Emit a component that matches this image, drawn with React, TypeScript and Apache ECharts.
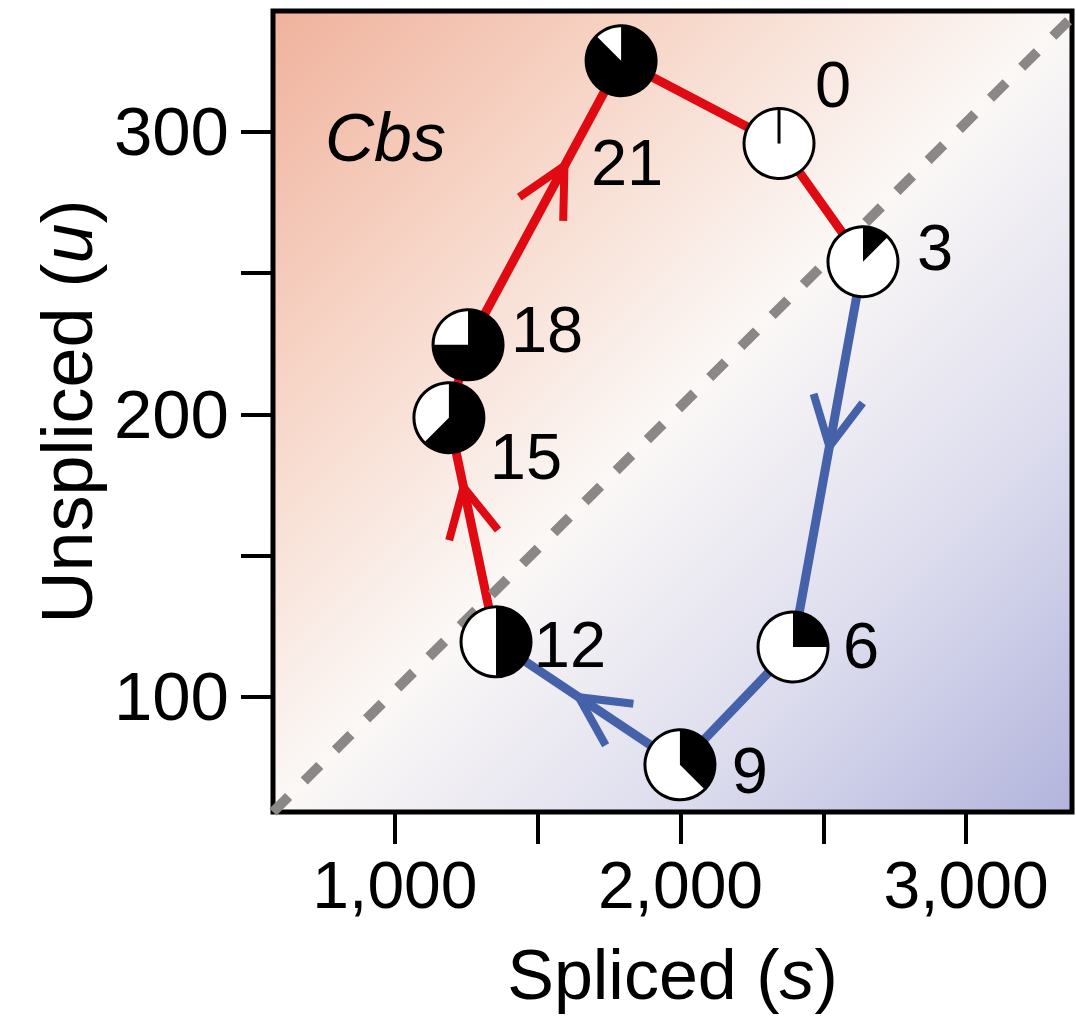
import React, { useEffect, useRef } from "react";
import * as echarts from "echarts";

// ---- data ----
const hours = [0, 3, 6, 9, 12, 15, 18, 21];
const spliced = [2345, 2639, 2394, 1998, 1354, 1189, 1256, 1792];
const unspliced = [295.8, 254, 117.7, 76, 119.5, 198.8, 224.6, 325.1];

const redPath = [12, 15, 18, 21, 0, 3];
const bluePath = [3, 6, 9, 12];

// [from hour, to hour, position of arrow tip along segment]
const arrowSegments = [
  [3, 6, 0.48],
  [9, 12, 0.55],
  [12, 15, 0.69],
  [18, 21, 0.63],
];

const xTicks = [1000, 1500, 2000, 2500, 3000];
const xLabels = [1000, 2000, 3000];
const yTicks = [100, 150, 200, 250, 300];
const yLabels = [100, 200, 300];
const xRange = [573, 3371];
const yRange = [59.3, 342.7];
const diagonal = [
  [573, 59.3],
  [3371, 340.5],
];
const geneName = "Cbs";

// ---- layout / style (not data) ----
const labelOffsets: Record<number, [number, number]> = {
  0: [54, -59],
  3: [72, -14],
  6: [68, -1],
  9: [70, 6],
  12: [74, 3],
  15: [77, 39],
  18: [79, -15],
  21: [6, 102],
};
const FONT = "'Liberation Sans', Arial, Helvetica, sans-serif";
const RED = "#e00a12";
const BLUE = "#4461a9";

const pointOf = (h: number) => {
  const i = hours.indexOf(h);
  return [spliced[i], unspliced[i]];
};

export default function App() {
  const ref = useRef<HTMLDivElement>(null);

  useEffect(() => {
    if (!ref.current) return;
    const chart = echarts.init(ref.current, null, { renderer: "svg" });

    const pieData = hours.map((h, i) => [spliced[i], unspliced[i], h]);
    const isBlueSeg = (a: number, b: number) => {
      const i = bluePath.indexOf(a);
      return i >= 0 && bluePath[i + 1] === b;
    };
    const arrowData = (blue: boolean) =>
      arrowSegments
        .filter((s) => isBlueSeg(s[0], s[1]) === blue)
        .map((s) => [...pointOf(s[0]), ...pointOf(s[1]), s[2]]);

    const arrowSeries = (blue: boolean) => ({
      type: "custom",
      z: 4,
      data: arrowData(blue),
      encode: { x: [0, 2], y: [1, 3] },
      renderItem: (params: any, api: any) => {
        const p0 = api.coord([api.value(0), api.value(1)]);
        const p1 = api.coord([api.value(2), api.value(3)]);
        const f = api.value(4);
        const dx = p1[0] - p0[0];
        const dy = p1[1] - p0[1];
        const len = Math.hypot(dx, dy);
        const bx = -dx / len;
        const by = -dy / len;
        const tip = [p0[0] + f * dx, p0[1] + f * dy];
        const L = 55;
        const a = (27 * Math.PI) / 180;
        const rot = (t: number) => [
          bx * Math.cos(t) - by * Math.sin(t),
          bx * Math.sin(t) + by * Math.cos(t),
        ];
        const r1 = rot(a);
        const r2 = rot(-a);
        return {
          type: "polyline",
          shape: {
            points: [
              [tip[0] + L * r1[0], tip[1] + L * r1[1]],
              tip,
              [tip[0] + L * r2[0], tip[1] + L * r2[1]],
            ],
          },
          style: { stroke: blue ? BLUE : RED, lineWidth: 8, fill: null, lineJoin: "miter" },
        };
      },
    });

    const option: any = {
      animation: false,
      grid: {
        left: 273,
        right: 4,
        top: 11,
        bottom: 212,
        show: true,
        borderColor: "#000",
        borderWidth: 5,
        backgroundColor: {
          type: "linear",
          x: 0,
          y: 0,
          x2: 1,
          y2: 1,
          colorStops: [
            { offset: 0, color: "#f0b29c" },
            { offset: 0.25, color: "#f7d6c8" },
            { offset: 0.5, color: "#fbf8f6" },
            { offset: 0.75, color: "#dcdcee" },
            { offset: 1, color: "#b2b4dc" },
          ],
        },
      },
      xAxis: {
        type: "value",
        min: xRange[0],
        max: xRange[1],
        splitLine: { show: false },
        axisLine: { show: false },
        axisTick: {
          show: true,
          inside: false,
          length: 32,
          customValues: xTicks,
          lineStyle: { color: "#000", width: 4 },
        },
        axisLabel: {
          customValues: xLabels,
          margin: 40,
          fontSize: 66,
          color: "#000",
          fontFamily: FONT,
          formatter: (v: number) => v.toLocaleString("en-US"),
        },
        name: "{a|Spliced (}{b|s}{a|)}",
        nameLocation: "middle",
        nameGap: 128,
        nameTextStyle: {
          fontSize: 70,
          fontFamily: FONT,
          color: "#000",
          rich: {
            a: { fontSize: 70, fontFamily: FONT, color: "#000" },
            b: { fontSize: 70, fontFamily: FONT, color: "#000", fontStyle: "italic" },
          },
        },
      },
      yAxis: {
        type: "value",
        min: yRange[0],
        max: yRange[1],
        splitLine: { show: false },
        axisLine: { show: false },
        axisTick: {
          show: true,
          inside: false,
          length: 32,
          customValues: yTicks,
          lineStyle: { color: "#000", width: 4 },
        },
        axisLabel: {
          customValues: yLabels,
          margin: 44,
          fontSize: 69,
          color: "#000",
          fontFamily: FONT,
        },
        name: "{a|Unspliced (}{b|u}{a|)}",
        nameLocation: "middle",
        nameGap: 170,
        nameTextStyle: {
          fontSize: 72,
          fontFamily: FONT,
          color: "#000",
          rich: {
            a: { fontSize: 72, fontFamily: FONT, color: "#000" },
            b: { fontSize: 72, fontFamily: FONT, color: "#000", fontStyle: "italic" },
          },
        },
      },
      graphic: [
        {
          type: "text",
          left: 325,
          top: 103,
          z: 10,
          style: {
            text: geneName,
            fontSize: 68,
            fontStyle: "italic",
            fontFamily: FONT,
            fill: "#000",
          },
        },
      ],
      series: [
        {
          type: "line",
          z: 2,
          data: redPath.map(pointOf),
          symbol: "none",
          lineStyle: { color: RED, width: 9 },
        },
        {
          type: "line",
          z: 2,
          data: bluePath.map(pointOf),
          symbol: "none",
          lineStyle: { color: BLUE, width: 9 },
        },
        arrowSeries(true),
        arrowSeries(false),
        {
          type: "line",
          z: 3,
          data: diagonal,
          symbol: "none",
          lineStyle: { color: "#8b8786", width: 10, type: [22, 22] },
        },
        {
          type: "custom",
          z: 6,
          data: pieData,
          encode: { x: 0, y: 1 },
          renderItem: (params: any, api: any) => {
            const c = api.coord([api.value(0), api.value(1)]);
            const h = api.value(2);
            const R = 35;
            const off = labelOffsets[h] || [70, 0];
            const children: any[] = [
              { type: "circle", shape: { cx: c[0], cy: c[1], r: R }, style: { fill: "#fff" } },
            ];
            if (h > 0) {
              children.push({
                type: "sector",
                shape: {
                  cx: c[0],
                  cy: c[1],
                  r0: 0,
                  r: R,
                  startAngle: -Math.PI / 2,
                  endAngle: -Math.PI / 2 + (2 * Math.PI * h) / 24,
                  clockwise: true,
                },
                style: { fill: "#000" },
              });
            } else {
              children.push({
                type: "line",
                shape: { x1: c[0], y1: c[1], x2: c[0], y2: c[1] - R },
                style: { stroke: "#000", lineWidth: 3 },
              });
            }
            children.push({
              type: "circle",
              shape: { cx: c[0], cy: c[1], r: R },
              style: { fill: null, stroke: "#000", lineWidth: 3 },
            });
            children.push({
              type: "text",
              style: {
                text: String(h),
                x: c[0] + off[0],
                y: c[1] + off[1],
                align: "center",
                verticalAlign: "middle",
                textAlign: "center",
                textVerticalAlign: "middle",
                fontSize: 65,
                fontFamily: FONT,
                fill: "#000",
              },
            });
            return { type: "group", children };
          },
        },
      ],
    };

    chart.setOption(option);
    return () => chart.dispose();
  }, []);

  return (
    <div
      ref={ref}
      style={{ position: "absolute", left: 0, top: 0, width: 1076, height: 1024, background: "#fff" }}
    />
  );
}
